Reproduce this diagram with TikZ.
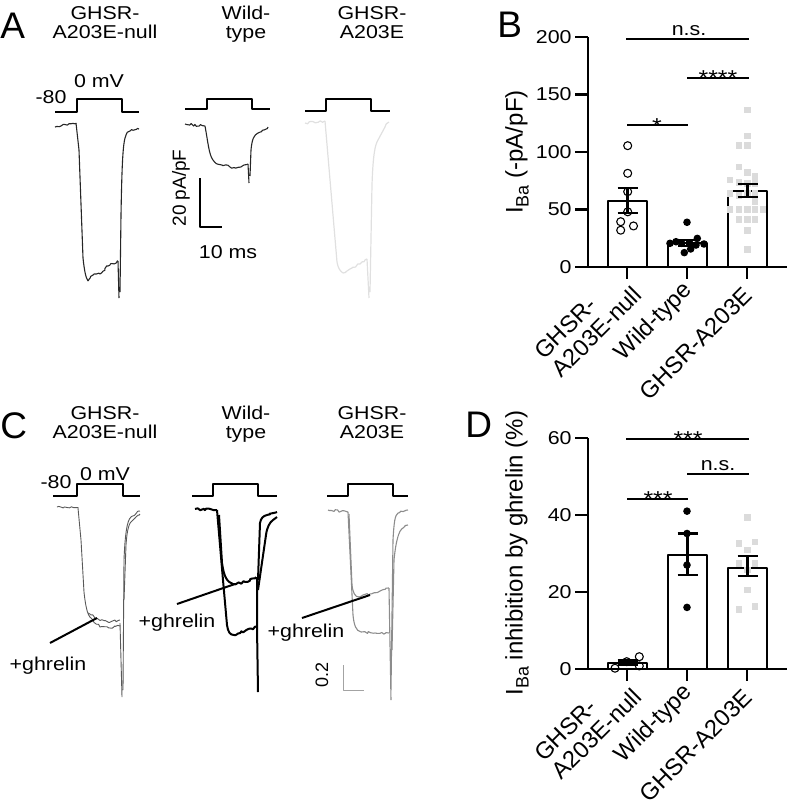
\documentclass[tikz,border=0pt]{standalone}
\usepackage{fontspec}
\setmainfont{Liberation Sans}[FakeStretch=1.15]
\newfontfamily\plainsf{Liberation Sans}
\usepackage{tikz}
\usetikzlibrary{positioning,decorations.pathmorphing}
\definecolor{lgray}{gray}{0.88}
\definecolor{mgray}{gray}{0.55}
\definecolor{dgray}{gray}{0.35}
\definecolor{sqgray}{gray}{0.86}
\pgfmathsetseed{7}

\begin{document}
\begin{tikzpicture}[x=0.5pt,y=-0.5pt,line join=round]%1 unit = 1 px
  \tikzstyle{plbl} = [font=\plainsf\fontsize{18.5}{18.5}\selectfont, inner sep=0pt, anchor=base west]
  \tikzstyle{lbl} = [font=\fontsize{9.3}{9.3}\selectfont, inner sep=0pt, anchor=base]
  \tikzstyle{tick} = [font=\fontsize{9.3}{9.3}\selectfont, inner sep=0pt, anchor=east]
  \tikzstyle{star} = [font=\fontsize{10.8}{10.8}\selectfont, inner sep=0pt, anchor=base]
  \tikzstyle{xlbl} = [font=\plainsf\fontsize{11.8}{12.5}\selectfont, inner sep=0pt, rotate=45, anchor=north east, align=left]
  \tikzstyle{ylbl} = [font=\plainsf\fontsize{12}{12}\selectfont, inner sep=0pt, rotate=90]
  \tikzstyle{stp} = [line width=1.3pt]
  \tikzstyle{noisy} = [decorate, decoration={random steps, segment length=1pt, amplitude=0.55pt}]
  \tikzstyle{trA} = [line width=0.55pt, black!85]
  \tikzstyle{trL} = [line width=0.6pt, lgray]
  \tikzstyle{trC1} = [line width=0.45pt, dgray]
  \tikzstyle{trC2} = [line width=1pt, black]
  \tikzstyle{trC3} = [line width=0.55pt, mgray]
  \tikzstyle{ptr} = [line width=1pt]
  \tikzstyle{axis} = [line width=1.1pt]
  \tikzstyle{bar} = [line width=1.1pt]
  \tikzstyle{err} = [line width=1.1pt]
  \tikzstyle{sig} = [line width=1.1pt]
  \tikzstyle{ocirc} = [circle, draw, line width=0.55pt, minimum size=4pt, inner sep=0pt]
  \tikzstyle{fcirc} = [circle, fill=black, minimum size=3.8pt, inner sep=0pt]
  \tikzstyle{sq} = [rectangle, fill=sqgray, minimum size=3.4pt, inner sep=0pt]
  \useasboundingbox (0,0) rectangle (788,800);

  % panel A
  \node[plbl] (pA) at (0,38) {A};
  \foreach \x/\a/\b [count=\i] in {105/GHSR-/A203E-null, 246/Wild-/type, 372/GHSR-/A203E}{
    \node[lbl] (tA\i a) at (\x,19) {\a};
    \node[lbl] (tA\i b) at (\x,38) {\b};}
  \node[lbl] (vA1) at (51,103) {-80};
  \node[lbl] (vA2) at (99,87) {0 mV};
  \foreach \a/\b/\c/\d/\yb in {55/77/122/139/112, 185/207/252/270/109, 305/326/371/390/111}
    \draw[stp] (\a,\yb) -- (\b,\yb) -- (\b,99) -- (\c,99) -- (\c,\yb) -- (\d,\yb);
  \draw[trA,noisy] (55,127) -- (76,123);
  \draw[trA] (76,123) -- (79,150) -- (83,258) .. controls (84.5,272) and (86,278) .. (88,281);
  \draw[trA,noisy] (88,281) -- (93,275) -- (100,274) -- (108,266) -- (118,261);
  \draw[trA] (118,261) -- (119,298) (120,292) -- (121,215) .. controls (122,160) and (123,142) .. (126,135) .. controls (127,132) .. (130,131);
  \draw[trA,noisy] (130,131) -- (139,129);
  \draw[trA,noisy] (185,124) -- (205,126);
  \draw[trA] (205,126) .. controls (208,142) and (209,155) .. (213,160) .. controls (216,164) .. (222,165);
  \draw[trA,noisy] (222,165) -- (235,168) -- (248,164);
  \draw[trA] (248,164) -- (249,183) (250,176) -- (251,150) .. controls (252,139) and (254,135) .. (258,133);
  \draw[trA,noisy] (258,133) -- (268,127);
  \draw[trL,noisy] (305,123) -- (325,121);
  \draw[trL] (325,121) -- (337,262) .. controls (338,268) and (340,271) .. (343,273);
  \draw[trL,noisy] (343,273) -- (352,268) -- (360,264) -- (367,259);
  \draw[trL] (367,259) -- (369,298) (370,292) -- (372,185) .. controls (373,155) and (375,145) .. (378,140) -- (385,127);
  \draw[trL,noisy] (385,127) -- (389,122);
  \draw[line width=0.6pt] (200,178) -- (200,227) -- (222,227);
  \node[ylbl, font=\plainsf\fontsize{9.5}{9.5}\selectfont] (sA1) at (181,188) {20 pA/pF};
  \node[lbl] (sA2) at (228,258) {10 ms};

  % panel B
  \node[plbl] (pB) at (497,37) {B};
  \node[ylbl] (yB) at (517,152) {I\raisebox{-0.25em}{\fontsize{9}{9}\selectfont Ba} (-pA/pF)};
  \begin{scope}[shift={(0,267)},yscale=-1.15]
    \draw[axis] (588,200) -- (588,0) -- (787,0);
    \foreach \v in {0,50,100,150,200}{
      \draw[axis] (575,\v) -- (588,\v);
      \node[tick] (bt\v) at (572,\v) {\v};}
    \foreach \x in {627,687,747} \draw[axis] (\x,0) -- (\x,-10.4);
    \draw[bar] (608,0) rectangle (647,57.5);
    \draw[bar] (668,0) rectangle (707,21);
    \draw[bar] (728,0) rectangle (767,66);
    \foreach \x/\v [count=\i] in {627.7/105.5, 627.7/81.5, 627.7/65.5, 627.7/48, 620.7/39.4, 620.7/32, 633.5/35.7}
      \node[ocirc] (bo\i) at (\x,\v) {};
    \foreach \x/\v [count=\i] in {687/38.9, 670/20.6, 676/22, 697.3/24.9, 704/20, 684.3/12.5, 690.7/15.7, 681.7/20.6, 690/20, 696/19.1}
      \node[fcirc] (bf\i) at (\x,\v) {};
    \foreach \x/\v [count=\i] in {747.5/136.5, 747.5/114, 739/105.5, 747.5/105.5, 739/87, 747.5/82, 755/78.5, 730/75.7, 739/73.5, 747.5/72.5, 755/72.5, 747.5/64, 755/64, 739/62, 730/50, 739/50, 747.5/50, 755/50, 763/50, 739/41, 747.5/41, 755/41, 747.5/32, 747.5/15.4, 755/57, 730/64}
      \node[sq] (bs\i) at (\x,\v) {};
    \foreach \x/\lo/\hi in {627.5/47/68.5, 687.5/18.5/23.5, 747.5/61/72.5}
      \draw[err] (\x,\lo) -- (\x,\hi) (\x-10,\lo) -- (\x+10,\lo) (\x-10,\hi) -- (\x+10,\hi);
  \end{scope}
  \draw[sig] (626,39) -- (749,39);
  \node[lbl] (bns) at (689,35) {n.s.};
  \draw[sig] (687,78) -- (749,78);
  \node[star] (bst4) at (718,85) {****};
  \draw[sig] (627,125) -- (688,125);
  \node[star] (bst1) at (657,133) {*};
  \node[xlbl] (bx1) at (614,267) {GHSR-\\A203E-null};
  \node[xlbl] (bx2) at (681,279) {Wild-type};
  \node[xlbl] (bx3) at (742,285) {GHSR-A203E};

  % panel C
  \node[plbl] (pC) at (0,438) {C};
  \foreach \x/\a/\b [count=\i] in {105/GHSR-/A203E-null, 246/Wild-/type, 372/GHSR-/A203E}{
    \node[lbl] (tC\i a) at (\x,419) {\a};
    \node[lbl] (tC\i b) at (\x,438) {\b};}
  \node[lbl] (vC1) at (56,488) {-80};
  \node[lbl] (vC2) at (105,480) {0 mV};
  \foreach \a/\b/\c/\d in {53/77/123/140, 192/213/258/277, 327/348/393/408}
    \draw[stp] (\a,496) -- (\b,496) -- (\b,484) -- (\c,484) -- (\c,496) -- (\d,496);
  \draw[trC1,noisy] (57,507) -- (78,508);
  \draw[trC1] (78,508) -- (81,540) -- (84,592) .. controls (86,610) and (88,617) .. (93,620);
  \draw[trC1,noisy] (93,620) -- (100,627) -- (110,628) -- (120,626);
  \draw[trC1,noisy] (88,613) -- (96,618) -- (108,622) -- (120,620);
  \draw[trC1] (120,623) -- (122,697) (123,690) -- (124,560) .. controls (125,535) and (127,520) .. (131,517);
  \draw[trC1,noisy] (131,517) -- (140,511);
  \draw[trC1] (124,600) -- (126,545) .. controls (127,530) and (129,522) .. (133,520);
  \draw[trC1,noisy] (133,520) -- (140,514);
  \draw[trC2,noisy] (195,509) -- (217,510);
  \draw[trC2] (217,510) -- (223,580) -- (227,625) .. controls (228,632) and (230,635) .. (234,635);
  \draw[trC2,noisy] (234,635) -- (245,631) -- (257,627);
  \draw[trC2] (219,515) -- (222,563) .. controls (224,577) and (227,582) .. (233,584);
  \draw[trC2,noisy] (233,584) -- (245,582) -- (256,577);
  \draw[trC2] (257,577) -- (257,627) -- (258,692);
  \draw[trC2] (258,580) -- (260,523) .. controls (261,518) and (263,516) .. (267,515);
  \draw[trC2,noisy] (267,515) -- (277,512);
  \draw[trC2] (258,590) -- (266,535) .. controls (267,527) and (270,522) .. (273,520) -- (277,517);
  \draw[trC3,noisy] (328,510) -- (348,512);
  \draw[trC3] (348,512) -- (353,615) .. controls (354,625) and (356,631) .. (361,632);
  \draw[trC3,noisy] (361,632) -- (375,633) -- (389,633);
  \draw[trC3] (349,514) -- (352,585) .. controls (353,593) and (355,597) .. (359,597);
  \draw[trC3,noisy] (359,597) -- (370,594) -- (389,588);
  \draw[trC3] (389,588) -- (391,700) (391,690) -- (393,540) .. controls (394,522) and (395,515) .. (398,513);
  \draw[trC3,noisy] (398,513) -- (408,510);
  \draw[trC3] (392,650) -- (394,560) .. controls (396,540) and (399,530) .. (403,528);
  \draw[trC3,noisy] (403,528) -- (408,525);
  \node[lbl] (gh1) at (48,670) {+ghrelin};
  \node[lbl] (gh2) at (177,627) {+ghrelin};
  \node[lbl] (gh3) at (306,637) {+ghrelin};
  \coordinate (g1a) at (50,643); \coordinate (g1b) at (97,618);
  \coordinate (g2a) at (177,604); \coordinate (g2b) at (235,584);
  \coordinate (g3a) at (302,618); \coordinate (g3b) at (370,595);
  \draw[ptr] (g1a) -- (g1b);
  \draw[ptr] (g2a) -- (g2b);
  \draw[ptr] (g3a) -- (g3b);
  \draw[line width=0.5pt, mgray!80] (343,665) -- (343,690) -- (364,690);
  \node[ylbl, font=\plainsf\fontsize{9}{9}\selectfont] (sC) at (322,675) {0.2};

  % panel D
  \node[plbl] (pD) at (465,437) {D};
  \node[ylbl] (yD) at (517,553) {I\raisebox{-0.25em}{\fontsize{9}{9}\selectfont Ba} inhibition by ghrelin (\%)};
  \begin{scope}[shift={(0,669)},yscale=-3.85]
    \draw[axis] (588,60) -- (588,0) -- (787,0);
    \foreach \v in {0,20,40,60}{
      \draw[axis] (575,\v) -- (588,\v);
      \node[tick] (dt\v) at (572,\v) {\v};}
    \foreach \x in {627,687,747} \draw[axis] (\x,0) -- (\x,-3.1);
    \draw[bar] (608,0) rectangle (647,1.5);
    \draw[bar] (668,0) rectangle (707,29.6);
    \draw[bar] (728,0) rectangle (767,26.3);
    \foreach \x/\v [count=\i] in {615/0.2, 626.7/1.9, 639.3/3.2, 639.3/0.8}
      \node[ocirc] (do\i) at (\x,\v) {};
    \foreach \x/\v [count=\i] in {687/41, 687/35.2, 687/27, 687/16}
      \node[fcirc] (df\i) at (\x,\v) {};
    \foreach \x/\v [count=\i] in {747.5/39.4, 739/32.6, 755/33, 747.5/30.9, 739/27.4, 755/27.4, 747.5/25.7, 747.5/20.5, 739/15.5, 755/16.2}
      \node[sq] (ds\i) at (\x,\v) {};
    \foreach \x/\lo/\hi in {627.5/1.0/2.2, 687.5/24.4/35.2, 747.5/24.1/29.3}
      \draw[err] (\x,\lo) -- (\x,\hi) (\x-10,\lo) -- (\x+10,\lo) (\x-10,\hi) -- (\x+10,\hi);
  \end{scope}
  \draw[sig] (626,439) -- (749,439);
  \node[star] (dst3a) at (688,446) {***};
  \draw[sig] (687,474) -- (749,474);
  \node[lbl] (dns) at (718,470) {n.s.};
  \draw[sig] (627,499) -- (688,499);
  \node[star] (dst3b) at (658,506) {***};
  \node[xlbl] (dx1) at (614,669) {GHSR-\\A203E-null};
  \node[xlbl] (dx2) at (681,681) {Wild-type};
  \node[xlbl] (dx3) at (742,687) {GHSR-A203E};
\end{tikzpicture}
\end{document}
